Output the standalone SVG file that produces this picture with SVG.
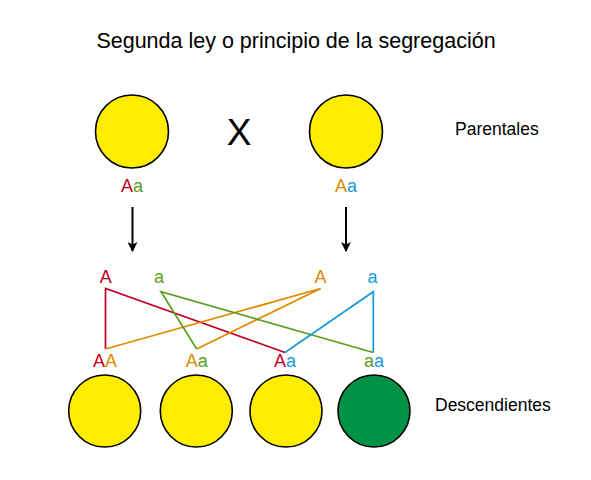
<svg xmlns="http://www.w3.org/2000/svg" width="591" height="480" viewBox="0 0 591 480">
<defs>
<style>
text{font-family:"Liberation Sans",Arial,sans-serif;text-anchor:middle;}
.t{font-size:21.5px;fill:#000;}
.lab{font-size:17.5px;fill:#000;text-anchor:start;}
.g{font-size:18px;}
.yc{fill:#ffed00;stroke:#000;stroke-width:1.6;}
.gc{fill:#009245;stroke:#000;stroke-width:1.6;}
.r{fill:#c1001f;}.gr{fill:#5a9e1e;}.o{fill:#e08a00;}.b{fill:#1a9ad6;}
.ln{fill:none;stroke-width:1.7;stroke-linejoin:miter;}
.arr{stroke:#000;stroke-width:2;fill:none;}
</style>
<marker id="ah" markerWidth="10" markerHeight="10" viewBox="0 0 10 10" refX="9" refY="5" orient="auto" markerUnits="userSpaceOnUse">
<path d="M0,0 L10,5 L0,10 L2.5,5 Z" fill="#000"/>
</marker>
</defs>
<rect width="591" height="480" fill="#fff"/>
<text class="t" x="296" y="48">Segunda ley o principio de la segregación</text>
<g id="parent1"><circle class="yc" cx="132" cy="131.5" r="36.5"/><text class="g" x="132" y="191.5"><tspan class="r">A</tspan><tspan class="gr">a</tspan></text></g>
<g id="cross"><text x="239" y="145" style="font-size:37px">X</text></g>
<g id="parent2"><circle class="yc" cx="346" cy="131.5" r="36.5"/><text class="g" x="346" y="191.5"><tspan class="o">A</tspan><tspan class="b">a</tspan></text></g>
<g id="parentales"><text class="lab" x="455" y="135">Parentales</text></g>
<g id="gametes">
<text class="g r" x="105.8" y="283">A</text>
<text class="g gr" x="159" y="283">a</text>
<text class="g o" x="320.5" y="283">A</text>
<text class="g b" x="372.5" y="283">a</text>
</g>
<g id="connectors">
<line class="arr" x1="132.5" y1="207" x2="132.5" y2="251" marker-end="url(#ah)"/>
<line class="arr" x1="346" y1="207" x2="346" y2="251" marker-end="url(#ah)"/>
<polyline class="ln" stroke="#c1001f" points="105.5,349 105.5,288.5 285,352.5"/>
<polyline class="ln" stroke="#e08a00" points="105.5,349 320.7,288.5 196.7,349"/>
<polyline class="ln" stroke="#5a9e1e" points="196.7,349 161,291.7 373.3,352.5"/>
<polyline class="ln" stroke="#1a9ad6" points="285,352.5 373.3,291.7 373.3,352.5"/>
</g>
<g id="child1"><text class="g" x="105" y="366.5"><tspan class="r">A</tspan><tspan class="o">A</tspan></text><circle class="yc" cx="104.7" cy="411" r="36"/></g>
<g id="child2"><text class="g" x="196.7" y="366.5"><tspan class="o">A</tspan><tspan class="gr">a</tspan></text><circle class="yc" cx="196.3" cy="411" r="36"/></g>
<g id="child3"><text class="g" x="285" y="366.5"><tspan class="r">A</tspan><tspan class="b">a</tspan></text><circle class="yc" cx="286" cy="411" r="36"/></g>
<g id="child4"><text class="g" x="374" y="366.5"><tspan class="gr">a</tspan><tspan class="b">a</tspan></text><circle class="gc" cx="374" cy="411" r="36"/></g>
<g id="descendientes"><text class="lab" x="435" y="411">Descendientes</text></g>
</svg>
